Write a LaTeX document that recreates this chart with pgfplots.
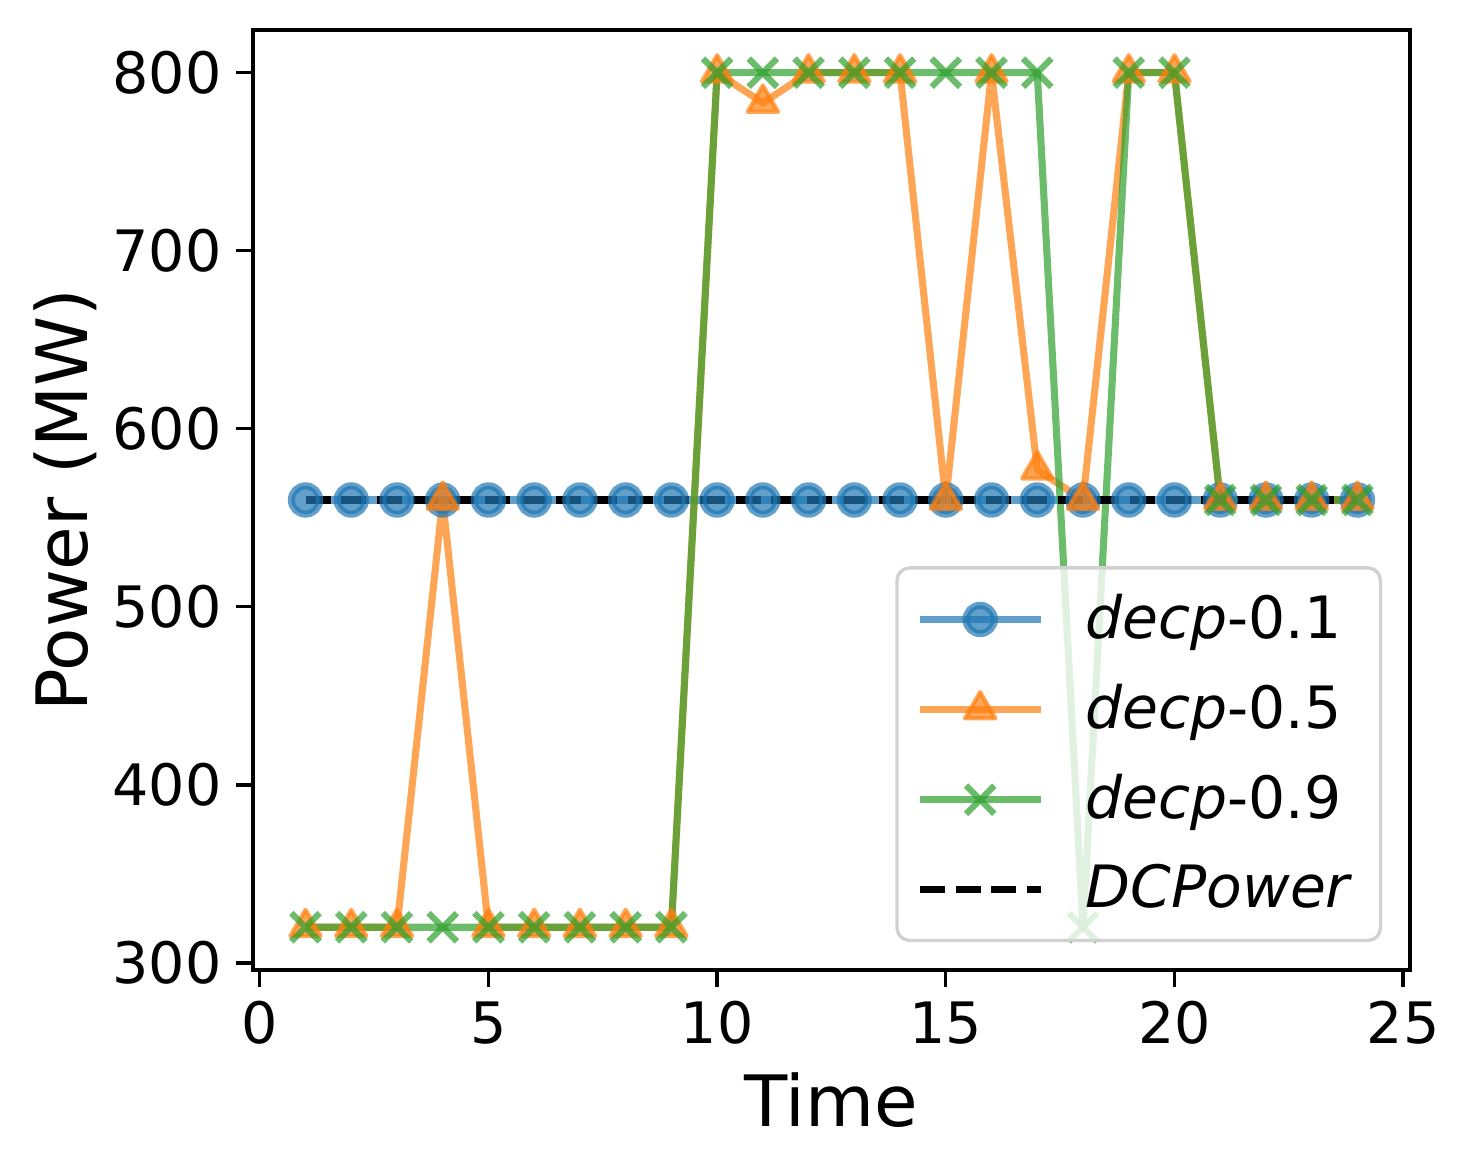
\documentclass[border=0pt]{standalone}
\usepackage{fontspec}
\setmainfont{DejaVu Sans}
\usepackage{pgfplots}
\pgfplotsset{compat=1.18}
\definecolor{tblue}{HTML}{1F77B4}
\definecolor{torange}{HTML}{FF7F0E}
\definecolor{tgreen}{HTML}{2CA02C}
\begin{document}
\begin{tikzpicture}
\begin{axis}[
  scale only axis,
  width=277.7pt, height=225.6pt,
  xmin=-0.15, xmax=25.15,
  ymin=296, ymax=824,
  xtick={0,5,10,15,20,25},
  ytick={300,400,500,600,700,800},
  tick align=outside,
  xtick pos=bottom, ytick pos=left,
  major tick length=4pt,
  every tick/.style={black, line width=0.8pt},
  axis line style={line width=0.8pt},
  /pgf/number format/assume math mode=true,
  tick label style={font=\fontsize{13.7}{16}\selectfont},
  label style={font=\fontsize{17}{20}\selectfont},
  xlabel={Time}, ylabel={Power (MW)},
  xlabel style={yshift=0pt},
  ylabel style={yshift=-3pt},
  legend cell align=left,
  legend style={at={(rel axis cs:1,0)}, xshift=-6.7pt, yshift=6.7pt, anchor=south east,
    draw=black!18, line width=0.8pt, rounded corners=3pt, fill=white, fill opacity=0.8, text opacity=1,
    font=\fontsize{14}{16}\selectfont, row sep=5.5pt, inner xsep=4.6pt, inner ysep=4.3pt},
  legend image code/.code={\draw[mark repeat=2,mark phase=2] plot coordinates {(0pt,0pt) (14.5pt,0pt) (29pt,0pt)};
    \path (37pt,0pt);},
  every axis plot/.append style={line width=1.7pt, line join=round},
]
\addplot[color=tblue, opacity=0.7, mark=*, mark size=3.4pt, mark options={draw=tblue, fill=tblue}] coordinates {
(1,560) (2,560) (3,560) (4,560) (5,560) (6,560) (7,560) (8,560) (9,560) (10,560) (11,560) (12,560)
(13,560) (14,560) (15,560) (16,560) (17,560) (18,560) (19,560) (20,560) (21,560) (22,560) (23,560) (24,560)};
\addlegendentry{\textit{decp}-0.1}
\addplot[color=torange, opacity=0.7, mark=triangle*, mark size=4.2pt, mark options={draw=torange, fill=torange, line width=1pt, line join=round}] coordinates {
(1,320) (2,320) (3,320) (4,560) (5,320) (6,320) (7,320) (8,320) (9,320) (10,800) (11,783) (12,800)
(13,800) (14,800) (15,560) (16,800) (17,577) (18,560) (19,800) (20,800) (21,560) (22,560) (23,560) (24,560)};
\addlegendentry{\textit{decp}-0.5}
\addplot[color=tgreen, opacity=0.7, mark=x, mark size=4.8pt, mark options={line width=1.5pt}] coordinates {
(1,320) (2,320) (3,320) (4,320) (5,320) (6,320) (7,320) (8,320) (9,320) (10,800) (11,800) (12,800)
(13,800) (14,800) (15,800) (16,800) (17,800) (18,320) (19,800) (20,800) (21,560) (22,560) (23,560) (24,560)};
\addlegendentry{\textit{decp}-0.9}
\addplot[color=black, no marks, line width=1.7pt, dash pattern=on 6pt off 2.6pt] coordinates {(1,560) (24,560)};
\addlegendentry{\textit{DCPower}}
\end{axis}
\path (-60.7pt,-48pt) rectangle (292.1pt,232.8pt);
\end{tikzpicture}
\end{document}
